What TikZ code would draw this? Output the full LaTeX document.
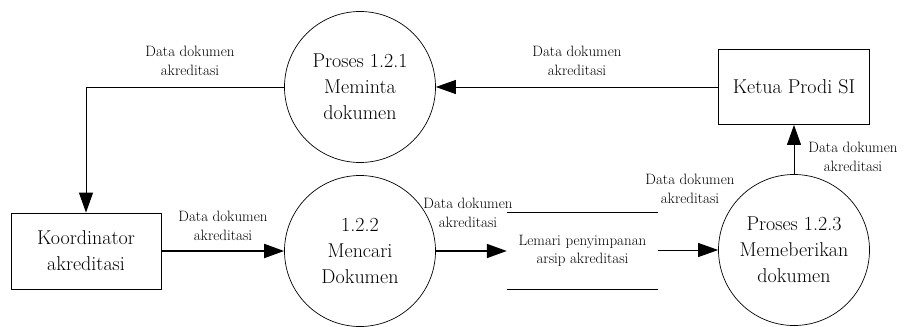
\documentclass[tikz,border=0pt]{standalone}
\usetikzlibrary{arrows.meta,positioning}
\tikzset{
  proc/.style={draw, circle, line width=0.7pt, minimum size=151pt, inner sep=0pt,
    align=center, font=\fontsize{20}{26}\selectfont},
  entity/.style={draw, line width=0.8pt, inner sep=0pt, align=center,
    font=\fontsize{20}{26}\selectfont},
  store/.style={inner sep=0pt, minimum width=151pt, minimum height=76pt, align=center,
    font=\fontsize{15}{18}\selectfont},
  flow/.style={draw, line width=0.9pt, -{Triangle[length=20pt,width=14pt]}},
  thickflow/.style={draw, line width=1.8pt, -{Triangle[length=20pt,width=14pt]}},
  lab/.style={align=center, font=\fontsize{15}{19}\selectfont, inner sep=0pt},
}

\begin{document}
\begin{tikzpicture}[x=1pt,y=-1pt]
  \useasboundingbox (0,0) rectangle (906,327);

  \node[proc] (p1) at (360,87) {Proses 1.2.1\\Meminta\\dokumen};
  \node[proc] (p2) at (360,251) {1.2.2\\Mencari\\Dokumen};
  \node[proc] (p3) at (794,250) {Proses 1.2.3\\Memeberikan\\dokumen};
  \node[entity, minimum width=151pt, minimum height=75pt] (ketua) at (794,87) {Ketua Prodi SI};
  \node[entity, minimum width=150pt, minimum height=76pt] (koord) at (86,251) {Koordinator\\akreditasi};
  \node[store] (lemari) at (582.5,251) {Lemari penyimpanan\\arsip akreditasi};
  \draw[line width=0.9pt] (lemari.north west) -- (lemari.north east);
  \draw[line width=0.9pt] (lemari.south west) -- (lemari.south east);

  \path[flow] (ketua.west) -- (p1.east);
  \path[flow] (p1.west) -| (koord.north);
  \path[thickflow] (koord.east) -- (p2.west);
  \path[thickflow] (p2.east) -- (lemari.west);
  \path[flow] (lemari.east |- p3.west) -- (p3.west);
  \path[flow] (p3.north) -- (ketua.south);

  \node[lab] (l1) at (190,61) {Data dokumen\\akreditasi};
  \node[lab] (l2) at (577,61) {Data dokumen\\akreditasi};
  \node[lab] (l3) at (223,226) {Data dokumen\\akreditasi};
  \node[lab] (l4) at (468,213) {Data dokumen\\akreditasi};
  \node[lab] (l5) at (690,189) {Data dokumen\\akreditasi};
  \node[lab] (l6) at (853,157) {Data dokumen\\akreditasi};
\end{tikzpicture}
\end{document}
